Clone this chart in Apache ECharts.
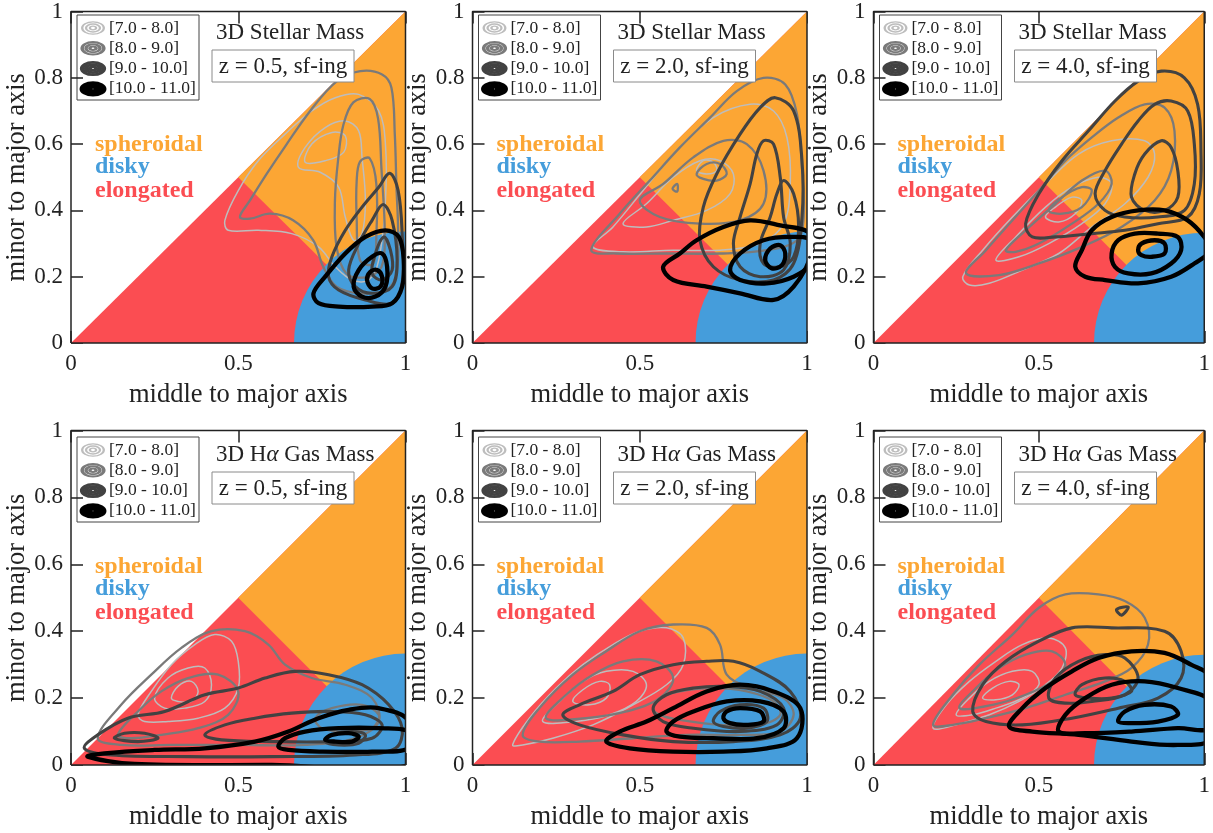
<!DOCTYPE html>
<html>
<head>
<meta charset="utf-8">
<script src="https://cdn.jsdelivr.net/npm/echarts@6.0.0/dist/echarts.min.js"></script>
<style>
  html, body { margin: 0; padding: 0; background: #ffffff; }
  #chart { width: 1213px; height: 833px; }
</style>
</head>
<body>
<div id="chart"></div>
<script>
// ---- axes and labels ----
const xTicks = [0, 0.5, 1];
const yTicks = [0, 0.2, 0.4, 0.6, 0.8, 1];
const massBins = ['[7.0 - 8.0]', '[8.0 - 9.0]', '[9.0 - 10.0]', '[10.0 - 11.0]'];
const redshifts = ['0.5', '2.0', '4.0'];
const quantities = ['3D Stellar Mass', '3D H{a|\u03b1} Gas Mass'];
const shapeClasses = ['spheroidal', 'disky', 'elongated'];

// shape classification boundaries (middle/major, minor/major)
const SPLIT_POINT = 0.5;      // elongated | spheroidal meet on the line x + y = 1
const DISKY_RADIUS = 1 / 3;   // disky: within this distance of (1, 0)

// ---- density contours, [x, y] = [middle/major, minor/major] ----
// 3D stellar mass, z = 0.5
const stellarZ05_m7 = [
  [[0.46,0.37],[0.47,0.34],[0.56,0.34],[0.66,0.33],[0.74,0.29],[0.79,0.23],[0.84,0.19],[0.89,0.19],[0.92,0.25],[0.94,0.43],[0.94,0.60],[0.92,0.70],[0.86,0.75],[0.79,0.74],[0.72,0.70],[0.64,0.63],[0.56,0.55],[0.50,0.46]],
  [[0.68,0.53],[0.70,0.59],[0.76,0.65],[0.82,0.67],[0.86,0.64],[0.87,0.56],[0.88,0.43],[0.87,0.33],[0.845,0.31],[0.82,0.38],[0.80,0.47],[0.745,0.515]],
  [[0.70,0.545],[0.72,0.60],[0.78,0.635],[0.82,0.625],[0.815,0.575],[0.76,0.55]]
];
const stellarZ05_m8 = [
  [[0.505,0.38],[0.535,0.43],[0.585,0.51],[0.645,0.60],[0.715,0.70],[0.795,0.79],[0.865,0.82],[0.93,0.81],[0.958,0.77],[0.968,0.63],[0.973,0.47],[0.978,0.33],[0.973,0.21],[0.943,0.16],[0.864,0.15],[0.794,0.17],[0.754,0.23],[0.724,0.31],[0.664,0.37],[0.595,0.39],[0.535,0.375]],
  [[0.844,0.726],[0.893,0.736],[0.918,0.677],[0.928,0.528],[0.938,0.328],[0.928,0.229],[0.883,0.199],[0.824,0.209],[0.794,0.289],[0.789,0.428],[0.799,0.557],[0.814,0.657]],
  [[0.864,0.547],[0.893,0.557],[0.913,0.478],[0.913,0.328],[0.903,0.239],[0.864,0.249],[0.854,0.378],[0.854,0.488]]
];
const stellarZ05_m9 = [
  [[0.953,0.512],[0.978,0.46],[0.99,0.33],[0.99,0.18],[0.96,0.12],[0.88,0.13],[0.80,0.16],[0.77,0.20],[0.78,0.26],[0.82,0.34],[0.87,0.41],[0.92,0.47]],
  [[0.933,0.418],[0.96,0.37],[0.975,0.25],[0.96,0.17],[0.90,0.15],[0.85,0.17],[0.83,0.22],[0.86,0.30],[0.90,0.37]],
  [[0.935,0.32],[0.955,0.28],[0.96,0.22],[0.93,0.19],[0.90,0.21],[0.91,0.27]]
];
const stellarZ05_m10 = [
  [[0.725,0.15],[0.76,0.20],[0.82,0.27],[0.88,0.32],[0.94,0.34],[0.98,0.32],[0.995,0.25],[0.99,0.17],[0.96,0.12],[0.90,0.11],[0.80,0.11],[0.74,0.12]],
  [[0.845,0.17],[0.86,0.22],[0.90,0.26],[0.93,0.27],[0.945,0.23],[0.94,0.17],[0.91,0.14],[0.87,0.14]],
  [[0.885,0.19],[0.895,0.215],[0.915,0.22],[0.93,0.20],[0.925,0.17],[0.90,0.165]]
];

// 3D stellar mass, z = 2.0
const stellarZ20_m7 = [
  [[0.36,0.29],[0.42,0.35],[0.51,0.46],[0.61,0.58],[0.72,0.68],[0.83,0.72],[0.90,0.70],[0.94,0.62],[0.95,0.48],[0.93,0.36],[0.86,0.30],[0.74,0.28],[0.60,0.28],[0.45,0.275]],
  [[0.45,0.36],[0.52,0.42],[0.60,0.50],[0.68,0.55],[0.74,0.55],[0.78,0.51],[0.77,0.45],[0.70,0.40],[0.60,0.37],[0.52,0.35]],
  [[0.67,0.52],[0.69,0.55],[0.72,0.545],[0.73,0.52],[0.70,0.51]]
];
const stellarZ20_m8 = [
  [[0.355,0.28],[0.44,0.39],[0.53,0.49],[0.62,0.59],[0.71,0.68],[0.79,0.76],[0.87,0.80],[0.935,0.78],[0.97,0.69],[0.985,0.53],[0.99,0.38],[0.97,0.31],[0.88,0.28],[0.74,0.27],[0.58,0.27],[0.43,0.27]],
  [[0.50,0.43],[0.57,0.48],[0.66,0.56],[0.75,0.61],[0.82,0.60],[0.87,0.52],[0.87,0.42],[0.80,0.37],[0.68,0.36],[0.56,0.38]],
  [[0.67,0.51],[0.70,0.54],[0.74,0.54],[0.76,0.51],[0.73,0.49],[0.69,0.495]],
  [[0.598,0.465],[0.612,0.48],[0.612,0.457]]
];
const stellarZ20_m9 = [
  [[0.905,0.74],[0.96,0.70],[0.985,0.55],[0.985,0.38],[0.96,0.24],[0.90,0.19],[0.80,0.19],[0.72,0.23],[0.68,0.31],[0.69,0.41],[0.73,0.51],[0.80,0.63],[0.86,0.71]],
  [[0.87,0.61],[0.90,0.60],[0.92,0.50],[0.93,0.38],[0.95,0.30],[0.93,0.22],[0.86,0.20],[0.80,0.23],[0.78,0.30],[0.80,0.38],[0.83,0.48],[0.85,0.57]],
  [[0.93,0.49],[0.96,0.45],[0.975,0.35],[0.96,0.26],[0.92,0.23],[0.87,0.24],[0.86,0.30],[0.89,0.38],[0.91,0.45]]
];
const stellarZ20_m10 = [
  [[0.57,0.23],[0.62,0.27],[0.67,0.31],[0.75,0.35],[0.83,0.37],[0.92,0.355],[1.01,0.33],[1.01,0.26],[0.96,0.17],[0.90,0.13],[0.80,0.15],[0.70,0.17],[0.60,0.19]],
  [[0.77,0.22],[0.80,0.27],[0.87,0.31],[0.95,0.32],[1.01,0.31],[1.01,0.24],[0.96,0.20],[0.88,0.18],[0.80,0.19]],
  [[0.875,0.25],[0.89,0.285],[0.92,0.295],[0.935,0.27],[0.925,0.235],[0.895,0.225]]
];

// 3D stellar mass, z = 4.0
const stellarZ40_m7 = [
  [[0.27,0.20],[0.33,0.28],[0.42,0.38],[0.52,0.48],[0.62,0.57],[0.72,0.61],[0.82,0.61],[0.85,0.57],[0.83,0.50],[0.76,0.42],[0.66,0.35],[0.56,0.27],[0.45,0.22],[0.35,0.18],[0.29,0.175]],
  [[0.37,0.25],[0.43,0.32],[0.52,0.41],[0.60,0.47],[0.68,0.50],[0.72,0.48],[0.70,0.42],[0.63,0.36],[0.53,0.30],[0.44,0.26]],
  [[0.52,0.38],[0.55,0.41],[0.60,0.44],[0.63,0.43],[0.61,0.39],[0.56,0.365]]
];
const stellarZ40_m8 = [
  [[0.28,0.21],[0.34,0.28],[0.42,0.37],[0.50,0.46],[0.58,0.55],[0.66,0.62],[0.74,0.68],[0.82,0.72],[0.88,0.71],[0.91,0.64],[0.90,0.52],[0.85,0.43],[0.75,0.35],[0.63,0.29],[0.50,0.24],[0.38,0.205]],
  [[0.40,0.28],[0.46,0.34],[0.55,0.42],[0.63,0.49],[0.70,0.52],[0.72,0.48],[0.68,0.42],[0.60,0.36],[0.50,0.30],[0.43,0.275]],
  [[0.53,0.40],[0.57,0.44],[0.63,0.47],[0.66,0.46],[0.63,0.41],[0.57,0.39]]
];
const stellarZ40_m9 = [
  [[0.87,0.82],[0.94,0.80],[0.98,0.72],[0.99,0.58],[0.985,0.45],[0.95,0.38],[0.86,0.36],[0.76,0.34],[0.66,0.33],[0.55,0.32],[0.48,0.32],[0.46,0.36],[0.50,0.45],[0.57,0.55],[0.65,0.64],[0.73,0.73],[0.80,0.79]],
  [[0.90,0.73],[0.95,0.70],[0.97,0.60],[0.97,0.48],[0.94,0.40],[0.86,0.38],[0.76,0.38],[0.70,0.40],[0.67,0.45],[0.70,0.52],[0.75,0.60],[0.80,0.67],[0.85,0.72]],
  [[0.87,0.61],[0.90,0.59],[0.92,0.52],[0.92,0.44],[0.88,0.40],[0.82,0.40],[0.78,0.44],[0.79,0.51],[0.82,0.57]]
];
const stellarZ40_m10 = [
  [[0.61,0.23],[0.63,0.28],[0.66,0.34],[0.72,0.38],[0.80,0.40],[0.88,0.40],[0.95,0.37],[1.0,0.32],[1.02,0.28],[0.97,0.24],[0.90,0.20],[0.80,0.18],[0.70,0.19],[0.64,0.20]],
  [[0.72,0.27],[0.74,0.31],[0.79,0.33],[0.86,0.33],[0.92,0.32],[0.93,0.28],[0.90,0.24],[0.84,0.21],[0.77,0.21],[0.73,0.23]],
  [[0.80,0.28],[0.81,0.30],[0.85,0.31],[0.88,0.30],[0.88,0.27],[0.84,0.26],[0.81,0.265]]
];

// 3D H-alpha gas mass, z = 0.5
const gasZ05_m7 = [
  [[0.20,0.15],[0.24,0.22],[0.30,0.30],[0.37,0.36],[0.43,0.39],[0.48,0.37],[0.50,0.31],[0.50,0.23],[0.46,0.17],[0.38,0.14],[0.29,0.13],[0.22,0.13]],
  [[0.25,0.20],[0.29,0.26],[0.35,0.29],[0.40,0.29],[0.42,0.24],[0.40,0.19],[0.34,0.17],[0.28,0.17]],
  [[0.30,0.20],[0.32,0.235],[0.36,0.25],[0.38,0.22],[0.36,0.19],[0.32,0.19]]
];
const gasZ05_m8 = [
  [[0.08,0.08],[0.15,0.18],[0.24,0.27],[0.33,0.35],[0.42,0.40],[0.52,0.40],[0.59,0.36],[0.64,0.30],[0.72,0.26],[0.82,0.24],[0.90,0.20],[0.92,0.13],[0.85,0.08],[0.70,0.06],[0.50,0.06],[0.30,0.06],[0.15,0.06]],
  [[0.14,0.09],[0.20,0.16],[0.27,0.22],[0.35,0.26],[0.44,0.27],[0.50,0.22],[0.47,0.15],[0.38,0.11],[0.27,0.09],[0.18,0.08]],
  [[0.73,0.14],[0.78,0.17],[0.87,0.18],[0.92,0.15],[0.90,0.11],[0.82,0.10],[0.75,0.11]]
];
const gasZ05_m9 = [
  [[0.04,0.05],[0.08,0.09],[0.17,0.14],[0.28,0.16],[0.40,0.21],[0.50,0.23],[0.58,0.26],[0.67,0.28],[0.77,0.27],[0.87,0.24],[0.95,0.18],[0.99,0.11],[0.97,0.05],[0.85,0.03],[0.60,0.025],[0.35,0.025],[0.12,0.03]],
  [[0.40,0.09],[0.46,0.12],[0.55,0.14],[0.66,0.155],[0.78,0.16],[0.88,0.15],[0.93,0.12],[0.90,0.08],[0.78,0.07],[0.60,0.07],[0.45,0.075]],
  [[0.13,0.08],[0.16,0.095],[0.22,0.095],[0.26,0.08],[0.20,0.07]],
  [[0.76,0.07],[0.78,0.09],[0.84,0.10],[0.88,0.09],[0.86,0.065],[0.80,0.06]]
];
const gasZ05_m10 = [
  [[0.05,0.025],[0.10,0.035],[0.25,0.045],[0.40,0.05],[0.55,0.07],[0.65,0.10],[0.74,0.14],[0.83,0.165],[0.92,0.17],[1.01,0.13],[1.01,0.0],[0.60,0.0],[0.19,0.003]],
  [[0.62,0.055],[0.64,0.08],[0.70,0.10],[0.80,0.11],[0.92,0.11],[1.01,0.10],[1.01,0.05],[0.90,0.04],[0.75,0.04],[0.65,0.045]],
  [[0.76,0.075],[0.78,0.09],[0.83,0.095],[0.86,0.085],[0.84,0.07],[0.79,0.07]]
];

// 3D H-alpha gas mass, z = 2.0
const gasZ20_m7 = [
  [[0.12,0.06],[0.17,0.14],[0.25,0.23],[0.33,0.30],[0.42,0.36],[0.50,0.40],[0.58,0.41],[0.63,0.38],[0.63,0.30],[0.58,0.24],[0.48,0.18],[0.36,0.12],[0.24,0.08],[0.15,0.06]],
  [[0.21,0.13],[0.26,0.19],[0.33,0.25],[0.40,0.28],[0.48,0.28],[0.52,0.24],[0.49,0.19],[0.41,0.15],[0.31,0.13]],
  [[0.30,0.19],[0.33,0.225],[0.38,0.25],[0.41,0.24],[0.40,0.20],[0.35,0.18]]
];
const gasZ20_m8 = [
  [[0.15,0.09],[0.20,0.17],[0.30,0.27],[0.40,0.34],[0.50,0.40],[0.60,0.42],[0.70,0.41],[0.74,0.36],[0.76,0.27],[0.83,0.23],[0.93,0.20],[0.96,0.15],[0.92,0.10],[0.80,0.09],[0.64,0.09],[0.48,0.08],[0.32,0.07],[0.20,0.07]],
  [[0.22,0.14],[0.28,0.21],[0.36,0.27],[0.45,0.31],[0.55,0.31],[0.60,0.26],[0.56,0.20],[0.46,0.16],[0.34,0.14]],
  [[0.54,0.17],[0.56,0.20],[0.62,0.22],[0.72,0.23],[0.82,0.22],[0.90,0.19],[0.92,0.15],[0.86,0.12],[0.74,0.12],[0.62,0.135],[0.56,0.15]]
];
const gasZ20_m9 = [
  [[0.27,0.15],[0.32,0.18],[0.42,0.22],[0.50,0.27],[0.60,0.30],[0.70,0.31],[0.78,0.31],[0.86,0.28],[0.95,0.22],[0.98,0.14],[0.92,0.09],[0.78,0.07],[0.60,0.07],[0.45,0.09],[0.32,0.12]],
  [[0.54,0.17],[0.58,0.21],[0.66,0.23],[0.76,0.235],[0.86,0.22],[0.93,0.17],[0.91,0.12],[0.80,0.10],[0.66,0.11],[0.57,0.13]],
  [[0.72,0.13],[0.74,0.16],[0.80,0.18],[0.87,0.17],[0.88,0.13],[0.82,0.11],[0.75,0.115]]
];
const gasZ20_m10 = [
  [[0.40,0.07],[0.44,0.10],[0.52,0.13],[0.60,0.17],[0.70,0.22],[0.80,0.24],[0.90,0.22],[0.98,0.17],[0.97,0.08],[0.88,0.05],[0.75,0.04],[0.60,0.04],[0.47,0.05]],
  [[0.58,0.10],[0.60,0.13],[0.66,0.16],[0.76,0.19],[0.86,0.19],[0.93,0.16],[0.93,0.11],[0.85,0.08],[0.72,0.08],[0.62,0.085]],
  [[0.75,0.14],[0.76,0.16],[0.80,0.17],[0.86,0.16],[0.87,0.13],[0.82,0.12],[0.77,0.125]]
];

// 3D H-alpha gas mass, z = 4.0
const gasZ40_m7 = [
  [[0.18,0.11],[0.22,0.18],[0.29,0.25],[0.37,0.31],[0.45,0.36],[0.53,0.38],[0.58,0.35],[0.57,0.29],[0.52,0.24],[0.44,0.19],[0.35,0.15],[0.25,0.12]],
  [[0.25,0.15],[0.29,0.20],[0.35,0.25],[0.42,0.28],[0.48,0.28],[0.50,0.24],[0.45,0.20],[0.37,0.17],[0.30,0.15]],
  [[0.33,0.20],[0.36,0.23],[0.41,0.25],[0.44,0.24],[0.42,0.21],[0.37,0.195]]
];
const gasZ40_m8 = [
  [[0.18,0.12],[0.24,0.21],[0.32,0.30],[0.42,0.39],[0.50,0.47],[0.58,0.51],[0.68,0.51],[0.76,0.49],[0.82,0.44],[0.83,0.36],[0.78,0.29],[0.70,0.25],[0.58,0.21],[0.46,0.17],[0.34,0.14],[0.24,0.12]],
  [[0.26,0.17],[0.31,0.23],[0.38,0.29],[0.46,0.33],[0.54,0.34],[0.58,0.30],[0.54,0.25],[0.46,0.21],[0.36,0.18]]
];
const gasZ40_m9 = [
  [[0.30,0.16],[0.33,0.24],[0.40,0.31],[0.50,0.37],[0.60,0.41],[0.72,0.41],[0.88,0.40],[0.93,0.34],[0.93,0.26],[0.86,0.20],[0.74,0.17],[0.60,0.14],[0.45,0.12],[0.34,0.13]],
  [[0.53,0.20],[0.55,0.26],[0.62,0.31],[0.70,0.33],[0.76,0.32],[0.80,0.26],[0.76,0.21],[0.66,0.19],[0.58,0.185]],
  [[0.61,0.21],[0.63,0.24],[0.70,0.26],[0.76,0.25],[0.78,0.22],[0.72,0.20],[0.65,0.20]],
  [[0.735,0.465],[0.77,0.472],[0.75,0.448]]
];
const gasZ40_m10 = [
  [[0.41,0.115],[0.45,0.17],[0.52,0.23],[0.60,0.28],[0.68,0.32],[0.78,0.34],[0.88,0.335],[0.96,0.30],[1.02,0.26],[1.02,0.08],[0.92,0.06],[0.78,0.07],[0.62,0.09],[0.48,0.10]],
  [[0.56,0.10],[0.58,0.15],[0.64,0.20],[0.72,0.24],[0.82,0.25],[0.92,0.23],[1.02,0.19],[1.02,0.11],[0.92,0.11],[0.78,0.10],[0.64,0.095]],
  [[0.74,0.13],[0.76,0.16],[0.82,0.18],[0.90,0.175],[0.92,0.15],[0.86,0.13],[0.78,0.125]]
];

// ---- styles ----
const FONT = 'Liberation Serif';
const INK = '#222222';
const CLASS_COLORS = { spheroidal: '#FCA634', disky: '#459DDB', elongated: '#FB4D52' };
const MASS_STYLES = [
  { color: '#BDBDBD', width: 1.5 },
  { color: '#7A7A7A', width: 2.3 },
  { color: '#424242', width: 3.1 },
  { color: '#000000', width: 4.3 }
];

// ---- layout ----
const GRID_LEFTS = [71, 472.5, 873.5];
const GRID_TOPS = [8.5, 430.5];
const GRID_SIZE = 334.5;

const panelContours = [
  [stellarZ05_m7, stellarZ05_m8, stellarZ05_m9, stellarZ05_m10],
  [stellarZ20_m7, stellarZ20_m8, stellarZ20_m9, stellarZ20_m10],
  [stellarZ40_m7, stellarZ40_m8, stellarZ40_m9, stellarZ40_m10],
  [gasZ05_m7, gasZ05_m8, gasZ05_m9, gasZ05_m10],
  [gasZ20_m7, gasZ20_m8, gasZ20_m9, gasZ20_m10],
  [gasZ40_m7, gasZ40_m8, gasZ40_m9, gasZ40_m10]
];

function renderRegions(params, api) {
  const o = api.coord([0, 0]);
  const a = api.coord([1, 0]);
  const b = api.coord([1, 1]);
  const m = api.coord([SPLIT_POINT, SPLIT_POINT]);
  const r = api.size([DISKY_RADIUS, 0])[0];
  return {
    type: 'group',
    children: [
      { type: 'polygon', shape: { points: [o, a, b] }, style: { fill: CLASS_COLORS.elongated } },
      { type: 'polygon', shape: { points: [m, b, a] }, style: { fill: CLASS_COLORS.spheroidal } },
      { type: 'sector', shape: { cx: a[0], cy: a[1], r0: 0, r: r, startAngle: Math.PI, endAngle: 1.5 * Math.PI, clockwise: true },
        style: { fill: CLASS_COLORS.disky } }
    ]
  };
}

function contourRenderer(list, style) {
  return function (params, api) {
    const cs = params.coordSys;
    const pts = list[api.value(2)].map(p => api.coord(p));
    return {
      type: 'group',
      clipPath: { type: 'rect', shape: { x: cs.x, y: cs.y, width: cs.width, height: cs.height } },
      children: [{
        type: 'polygon',
        shape: { points: pts, smooth: 0.35 },
        style: { fill: 'none', stroke: style.color, lineWidth: style.width, lineJoin: 'round' }
      }]
    };
  };
}

const grids = [], xAxes = [], yAxes = [], series = [], graphics = [];
const frame = [[0, 0], [1, 0], [1, 1], [0, 1], [0, 0]];

for (let i = 0; i < 6; i++) {
  const row = Math.floor(i / 3), col = i % 3;
  const left = GRID_LEFTS[col], top = GRID_TOPS[row];
  grids.push({ left: left, top: top, width: GRID_SIZE, height: GRID_SIZE });

  const tick = { show: true, inside: true, length: 12, lineStyle: { color: INK, width: 1.5 } };
  xAxes.push({
    type: 'value', gridIndex: i, position: 'bottom',
    min: xTicks[0], max: xTicks[xTicks.length - 1], interval: xTicks[1] - xTicks[0],
    axisLine: { show: false }, axisTick: tick, splitLine: { show: false },
    axisLabel: { color: INK, fontFamily: FONT, fontSize: 23, margin: 9 },
    name: 'middle to major axis', nameLocation: 'middle', nameGap: 39,
    nameTextStyle: { color: INK, fontFamily: FONT, fontSize: 26.5 }
  });
  xAxes.push({
    type: 'value', gridIndex: i, position: 'top',
    min: xTicks[0], max: xTicks[xTicks.length - 1], interval: xTicks[1] - xTicks[0],
    axisLine: { show: false }, axisTick: tick, splitLine: { show: false }, axisLabel: { show: false }
  });
  yAxes.push({
    type: 'value', gridIndex: i, position: 'left',
    min: yTicks[0], max: yTicks[yTicks.length - 1], interval: yTicks[1] - yTicks[0],
    axisLine: { show: false }, axisTick: tick, splitLine: { show: false },
    axisLabel: { color: INK, fontFamily: FONT, fontSize: 23, margin: 8 },
    name: 'minor to major axis', nameLocation: 'middle', nameGap: 36,
    nameTextStyle: { color: INK, fontFamily: FONT, fontSize: 26.5 }
  });

  series.push({
    type: 'custom', xAxisIndex: 2 * i, yAxisIndex: i, silent: true, z: 1,
    data: [[0, 0]], renderItem: renderRegions
  });
  panelContours[i].forEach((list, m) => {
    series.push({
      type: 'custom', xAxisIndex: 2 * i, yAxisIndex: i, silent: true, z: 3 + m,
      data: list.map((c, k) => [c[0][0], c[0][1], k]),
      renderItem: contourRenderer(list, MASS_STYLES[m])
    });
  });
  series.push({
    type: 'line', xAxisIndex: 2 * i, yAxisIndex: i, silent: true, z: 20, clip: false,
    data: frame, showSymbol: false, symbol: 'none',
    lineStyle: { color: INK, width: 1.5 }
  });

  // legend box with concentric-ring keys
  const lx = left + 6, ly = top + 6.5;
  const legendChildren = [
    { type: 'rect', shape: { x: 0, y: 0, width: 122, height: 85 }, style: { fill: '#ffffff', stroke: '#444', lineWidth: 1 } }
  ];
  massBins.forEach((label, m) => {
    const cy = 13 + m * 20.3;
    [6.2, 4.0, 1.8].forEach(r => {
      legendChildren.push({
        type: 'circle', x: 16, y: cy, scaleX: 1.75,
        shape: { cx: 0, cy: 0, r: r },
        style: { fill: 'none', stroke: MASS_STYLES[m].color, lineWidth: [1.3, 2.0, 2.6, 3.0][m], strokeNoScale: true }
      });
    });
    legendChildren.push({
      type: 'text', x: 32, y: cy,
      style: { text: label, fontFamily: FONT, fontSize: 17.5, fill: INK, verticalAlign: 'middle', align: 'left' }
    });
  });
  graphics.push({ type: 'group', x: lx, y: ly, z: 30, children: legendChildren });

  // panel title and redshift box
  graphics.push({
    type: 'text', x: left + 145, y: top + 24.5, z: 30,
    style: {
      text: quantities[row], fontFamily: FONT, fontSize: 23, fill: INK, verticalAlign: 'middle', align: 'left',
      rich: { a: { fontFamily: FONT, fontSize: 23, fontStyle: 'italic', fill: INK } }
    }
  });
  graphics.push({
    type: 'rect', x: left + 141, y: top + 41.5, z: 30,
    shape: { x: 0, y: 0, width: 142, height: 32 },
    style: { fill: '#ffffff', stroke: '#8a8a8a', lineWidth: 1 }
  });
  graphics.push({
    type: 'text', x: left + 212, y: top + 58, z: 31,
    style: { text: 'z = ' + redshifts[col] + ', sf-ing', fontFamily: FONT, fontSize: 23, fill: INK, verticalAlign: 'middle', align: 'center' }
  });

  // shape class labels
  shapeClasses.forEach((name, k) => {
    graphics.push({
      type: 'text', x: left + 24, y: top + [136.5, 158.5, 182.5][k], z: 30,
      style: { text: name, fontFamily: FONT, fontSize: 24, fontWeight: 'bold', fill: CLASS_COLORS[name], verticalAlign: 'middle', align: 'left' }
    });
  });
}

const chart = echarts.init(document.getElementById('chart'), null, { renderer: 'canvas' });
chart.setOption({
  animation: false,
  backgroundColor: '#ffffff',
  grid: grids,
  xAxis: xAxes,
  yAxis: yAxes,
  series: series,
  graphic: { elements: graphics }
});
</script>
</body>
</html>
